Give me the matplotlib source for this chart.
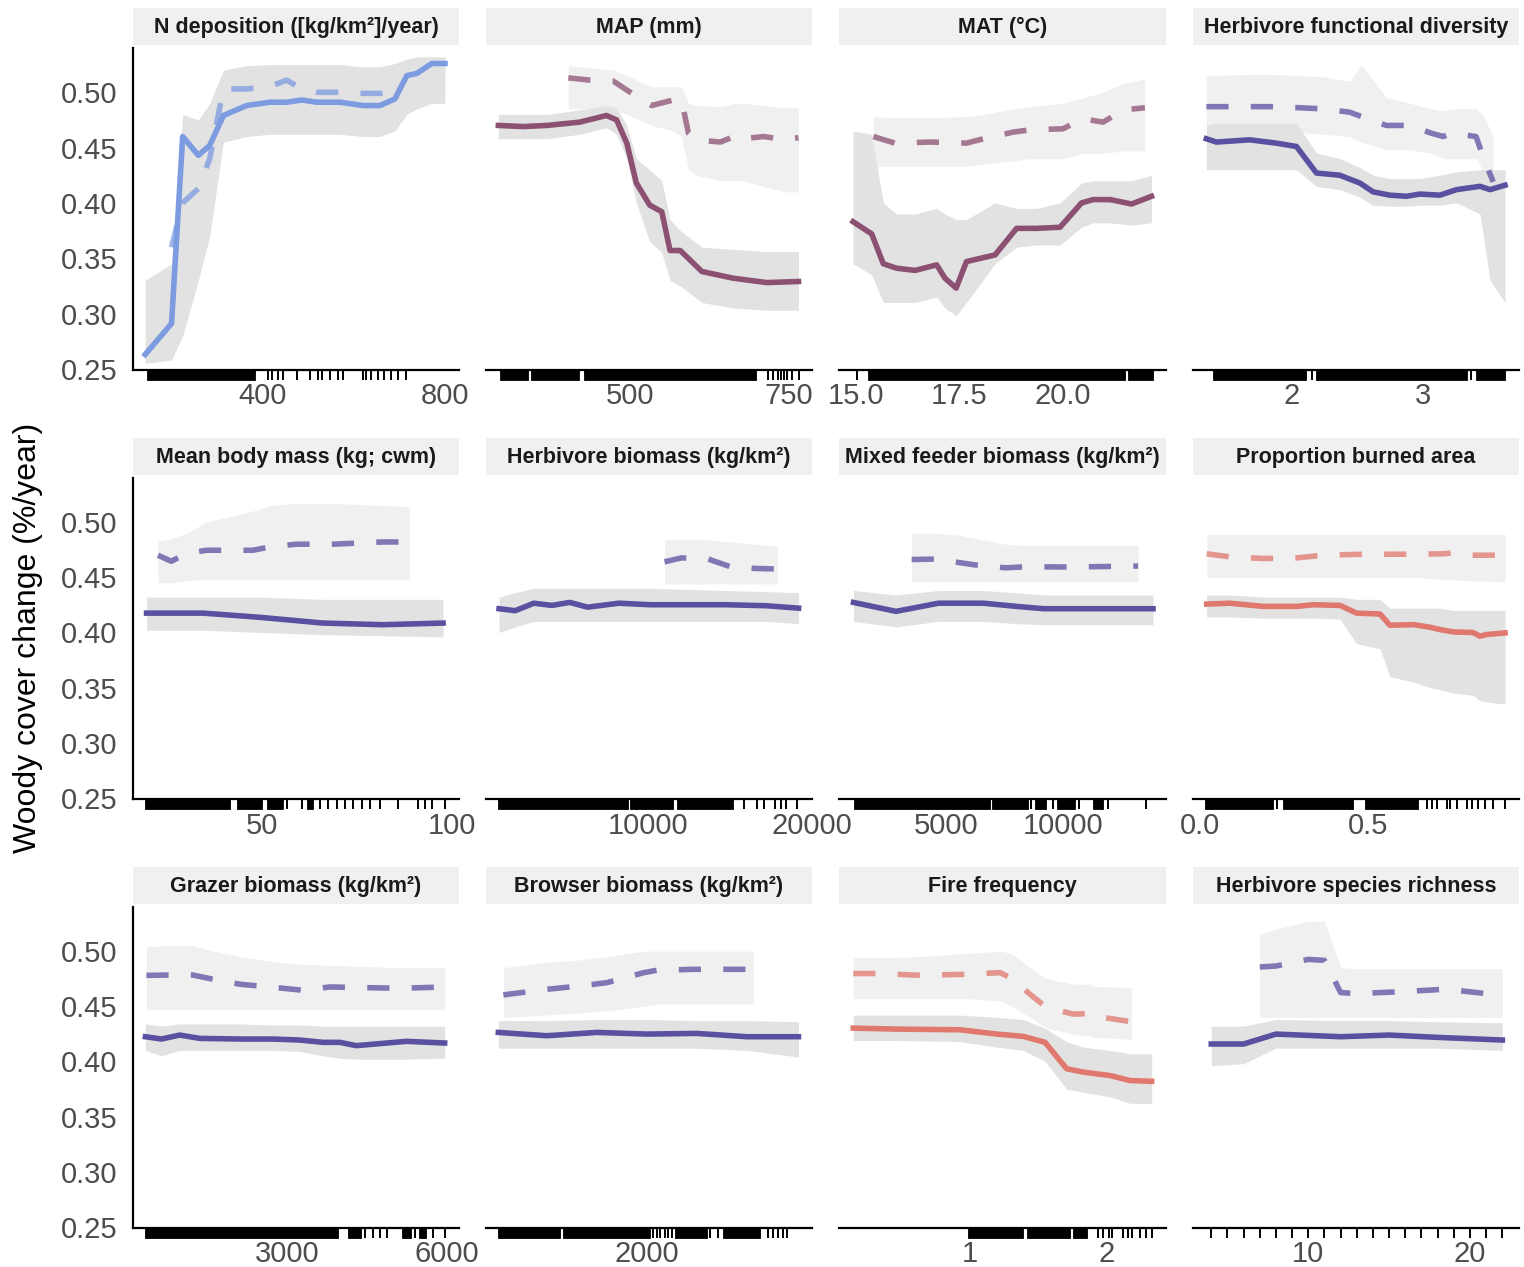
import matplotlib
matplotlib.use("Agg")
import matplotlib.pyplot as plt
from matplotlib.patches import Rectangle

plt.rcParams['font.family'] = ['Liberation Sans', 'DejaVu Sans']

# ---------------- data ----------------
titles = ["N deposition ([kg/km\u00b2]/year)", "MAP (mm)", "MAT (\u00b0C)",
          "Herbivore functional diversity",
          "Mean body mass (kg; cwm)", "Herbivore biomass (kg/km\u00b2)",
          "Mixed feeder biomass (kg/km\u00b2)", "Proportion burned area",
          "Grazer biomass (kg/km\u00b2)", "Browser biomass (kg/km\u00b2)",
          "Fire frequency", "Herbivore species richness"]

# 1 N deposition
ndep_x = [141, 199, 223.5, 258, 283, 313, 364, 415, 452, 485, 518, 569, 620, 657, 690, 716, 738, 771, 800]
ndep_y = [0.263, 0.291, 0.460, 0.443, 0.452, 0.479, 0.488, 0.491, 0.491, 0.493, 0.491, 0.491, 0.488, 0.488, 0.494, 0.515, 0.517, 0.526, 0.526]
ndep_lo = [0.255, 0.258, 0.28, 0.33, 0.37, 0.455, 0.46, 0.462, 0.462, 0.462, 0.462, 0.462, 0.46, 0.46, 0.465, 0.48, 0.485, 0.49, 0.49]
ndep_hi = [0.33, 0.345, 0.48, 0.475, 0.49, 0.52, 0.524, 0.525, 0.525, 0.525, 0.525, 0.525, 0.523, 0.523, 0.526, 0.53, 0.532, 0.532, 0.532]
ndep_dx = [199, 223.5, 258, 283, 313, 364, 415, 452, 485, 518, 569, 620, 657, 690]
ndep_dy = [0.36, 0.40, 0.413, 0.44, 0.503, 0.503, 0.505, 0.511, 0.503, 0.500, 0.500, 0.499, 0.499, 0.500]
ndep_rug_spans = [(144, 383)]
ndep_rug = [412, 419, 434, 443, 474, 503, 521, 529, 547, 565, 576, 620, 627, 638, 653, 667, 682, 697, 715]

# 2 MAP
map_x = [293, 332, 369, 421, 463, 479, 495, 510, 531, 550, 563, 579, 613, 662, 715, 765]
map_y = [0.470, 0.469, 0.470, 0.473, 0.479, 0.475, 0.454, 0.418, 0.398, 0.392, 0.357, 0.357, 0.338, 0.332, 0.328, 0.329]
map_lo = [0.458, 0.458, 0.458, 0.462, 0.468, 0.462, 0.44, 0.40, 0.365, 0.355, 0.33, 0.325, 0.31, 0.305, 0.303, 0.303]
map_hi = [0.48, 0.48, 0.48, 0.484, 0.488, 0.486, 0.47, 0.44, 0.43, 0.42, 0.385, 0.375, 0.36, 0.358, 0.356, 0.356]
map_dx = [403, 437, 474, 495, 534, 568, 581, 592, 605, 642, 668, 678, 710, 744, 765]
map_dy = [0.513, 0.511, 0.510, 0.502, 0.488, 0.493, 0.493, 0.463, 0.457, 0.455, 0.461, 0.458, 0.460, 0.457, 0.459]
map_dlo = [0.485, 0.485, 0.485, 0.48, 0.47, 0.465, 0.46, 0.43, 0.425, 0.42, 0.42, 0.42, 0.415, 0.41, 0.41]
map_dhi = [0.524, 0.522, 0.52, 0.515, 0.505, 0.505, 0.505, 0.49, 0.488, 0.487, 0.49, 0.49, 0.488, 0.486, 0.486]
map_rug_spans = [(296, 339), (344, 420), (428, 698)]
map_rug = [717, 725, 732, 737, 742, 747, 754, 766]

# 3 MAT
mat_x = [14.93, 15.38, 15.66, 15.98, 16.43, 16.95, 17.15, 17.42, 17.67, 18.36, 18.88, 19.36, 19.93, 20.45, 20.73, 21.14, 21.66, 22.14]
mat_y = [0.383, 0.372, 0.345, 0.341, 0.339, 0.344, 0.332, 0.323, 0.347, 0.353, 0.377, 0.377, 0.378, 0.400, 0.403, 0.403, 0.399, 0.406]
mat_lo = [0.345, 0.335, 0.31, 0.31, 0.31, 0.315, 0.305, 0.298, 0.31, 0.345, 0.36, 0.362, 0.362, 0.378, 0.382, 0.382, 0.38, 0.382]
mat_hi = [0.465, 0.462, 0.40, 0.39, 0.39, 0.395, 0.39, 0.385, 0.385, 0.40, 0.395, 0.395, 0.40, 0.418, 0.42, 0.42, 0.42, 0.425]
mat_dx = [15.42, 15.94, 16.79, 17.67, 18.08, 18.80, 19.20, 20.0, 20.49, 20.97, 21.46, 21.98]
mat_dy = [0.460, 0.454, 0.455, 0.454, 0.458, 0.464, 0.466, 0.467, 0.476, 0.473, 0.484, 0.486]
mat_dlo = [0.433, 0.433, 0.433, 0.433, 0.435, 0.438, 0.44, 0.44, 0.445, 0.445, 0.447, 0.447]
mat_dhi = [0.478, 0.477, 0.477, 0.478, 0.48, 0.485, 0.487, 0.49, 0.495, 0.50, 0.508, 0.512]
mat_rug_spans = [(15.28, 21.5), (21.56, 22.18)]
mat_rug = [15.02]

# 4 Herbivore functional diversity
hfd_x = [1.352, 1.428, 1.681, 1.884, 2.036, 2.188, 2.365, 2.517, 2.618, 2.745, 2.872, 2.973, 3.125, 3.252, 3.43, 3.506, 3.62]
hfd_y = [0.458, 0.455, 0.457, 0.454, 0.451, 0.427, 0.425, 0.418, 0.410, 0.407, 0.406, 0.408, 0.407, 0.412, 0.415, 0.412, 0.416]
hfd_lo = [0.43, 0.43, 0.43, 0.43, 0.43, 0.415, 0.412, 0.405, 0.398, 0.397, 0.397, 0.398, 0.398, 0.40, 0.39, 0.33, 0.31]
hfd_hi = [0.47, 0.472, 0.472, 0.472, 0.472, 0.445, 0.44, 0.432, 0.425, 0.422, 0.422, 0.422, 0.425, 0.428, 0.43, 0.43, 0.43]
hfd_dx = [1.352, 1.655, 1.884, 2.238, 2.44, 2.53, 2.72, 2.897, 3.06, 3.15, 3.21, 3.40, 3.45, 3.53]
hfd_dy = [0.487, 0.487, 0.487, 0.485, 0.482, 0.478, 0.470, 0.470, 0.463, 0.460, 0.463, 0.460, 0.443, 0.419]
hfd_dlo = [0.465, 0.465, 0.465, 0.462, 0.46, 0.455, 0.448, 0.448, 0.445, 0.44, 0.44, 0.44, 0.43, 0.41]
hfd_dhi = [0.515, 0.516, 0.516, 0.514, 0.51, 0.525, 0.495, 0.49, 0.485, 0.483, 0.485, 0.485, 0.48, 0.46]
hfd_rug_spans = [(1.40, 2.11), (2.185, 3.33), (3.40, 3.62)]
hfd_rug = [2.152, 3.36]

# 5 Mean body mass
bm_x = [19.7, 34.6, 49.5, 66.1, 81.9, 97.7]
bm_y = [0.4175, 0.4175, 0.4137, 0.4085, 0.407, 0.4085]
bm_lo = [0.402, 0.402, 0.40, 0.398, 0.397, 0.396]
bm_hi = [0.432, 0.432, 0.432, 0.43, 0.43, 0.43]
bm_dx = [22.7, 26.2, 30.2, 35.4, 47.7, 52.1, 59.1, 68.8, 81.9, 88.9]
bm_dy = [0.470, 0.4645, 0.4715, 0.4745, 0.4745, 0.4775, 0.480, 0.480, 0.482, 0.482]
bm_dlo = [0.445, 0.445, 0.447, 0.448, 0.448, 0.448, 0.448, 0.448, 0.448, 0.448]
bm_dhi = [0.483, 0.485, 0.49, 0.50, 0.51, 0.515, 0.517, 0.517, 0.515, 0.514]
bm_rug_spans = [(19.3, 41.7), (43.4, 50), (51.3, 55.7), (61.8, 63.6)]
bm_rug = [56.6, 60.5, 65.3, 67.5, 69.7, 71.9, 74.1, 76.3, 78.5, 81.1, 85.9, 91.2, 93, 94.7, 98.2]

# 6 Herbivore biomass
hb_x = [919, 1902, 3043, 4134, 5226, 6317, 8226, 10134, 14762, 17220, 19183]
hb_y = [0.4215, 0.4197, 0.4265, 0.4245, 0.4272, 0.4229, 0.4265, 0.4251, 0.4251, 0.4242, 0.4220]
hb_lo = [0.40, 0.405, 0.41, 0.41, 0.41, 0.41, 0.41, 0.41, 0.41, 0.41, 0.408]
hb_hi = [0.432, 0.436, 0.44, 0.44, 0.44, 0.44, 0.44, 0.44, 0.438, 0.437, 0.436]
hb_dx = [11006, 12043, 13677, 15037, 16537, 17897]
hb_dy = [0.464, 0.4676, 0.4665, 0.4595, 0.458, 0.4575]
hb_dlo = [0.444, 0.444, 0.444, 0.444, 0.444, 0.444]
hb_dhi = [0.484, 0.484, 0.484, 0.482, 0.48, 0.478]
hb_rug_spans = [(866, 8768), (8902, 11494), (11768, 15177)]
hb_rug = [15854, 16671, 17079, 17762, 18091, 18445, 19073]

# 7 Mixed feeder biomass
mf_x = [1026, 2842, 4658, 6568, 8000, 9145, 11821, 13825]
mf_y = [0.4272, 0.4191, 0.4265, 0.4265, 0.4236, 0.4215, 0.4215, 0.4215]
mf_lo = [0.41, 0.405, 0.41, 0.41, 0.408, 0.407, 0.407, 0.407]
mf_hi = [0.438, 0.434, 0.438, 0.438, 0.436, 0.434, 0.434, 0.434]
mf_dx = [3509, 4466, 5517, 6282, 7521, 8380, 10389, 13190]
mf_dy = [0.4661, 0.4665, 0.4634, 0.461, 0.4586, 0.4595, 0.4593, 0.4602]
mf_dlo = [0.446, 0.446, 0.446, 0.446, 0.446, 0.446, 0.446, 0.446]
mf_dhi = [0.49, 0.49, 0.488, 0.485, 0.48, 0.479, 0.479, 0.479]
mf_rug_spans = [(1026, 6855), (6949, 8479), (8765, 9244), (9722, 10483), (11248, 11667)]
mf_rug = [8611, 9530, 10675, 11915, 13538]

# 8 Proportion burned area
pb_x = [0.020, 0.089, 0.188, 0.288, 0.337, 0.417, 0.466, 0.536, 0.565, 0.635, 0.685, 0.714, 0.754, 0.813, 0.833, 0.853, 0.908]
pb_y = [0.4257, 0.4265, 0.4236, 0.4236, 0.4251, 0.4245, 0.4175, 0.4167, 0.4065, 0.4071, 0.4047, 0.4026, 0.4005, 0.3999, 0.3966, 0.3981, 0.3996]
pb_lo = [0.414, 0.414, 0.413, 0.413, 0.413, 0.412, 0.39, 0.385, 0.36, 0.355, 0.35, 0.348, 0.345, 0.343, 0.338, 0.337, 0.335]
pb_hi = [0.434, 0.434, 0.432, 0.432, 0.432, 0.432, 0.43, 0.43, 0.422, 0.422, 0.422, 0.422, 0.42, 0.42, 0.42, 0.42, 0.42]
pb_dx = [0.020, 0.089, 0.188, 0.288, 0.367, 0.486, 0.635, 0.724, 0.754, 0.784, 0.908]
pb_dy = [0.4713, 0.4685, 0.467, 0.4676, 0.470, 0.4709, 0.4709, 0.4713, 0.4722, 0.470, 0.470]
pb_dlo = [0.45, 0.45, 0.45, 0.45, 0.45, 0.45, 0.45, 0.448, 0.448, 0.447, 0.446]
pb_dhi = [0.489, 0.489, 0.489, 0.489, 0.489, 0.489, 0.489, 0.489, 0.489, 0.489, 0.489]
pb_rug_spans = [(0.015, 0.218), (0.248, 0.456), (0.491, 0.650)]
pb_rug = [0.228, 0.675, 0.69, 0.704, 0.734, 0.744, 0.764, 0.794, 0.809, 0.828, 0.848, 0.873, 0.908]

# 9 Grazer biomass
gb_x = [351, 651, 994, 1369, 2119, 2744, 3244, 3681, 3994, 4306, 4806, 5244, 5962]
gb_y = [0.4224, 0.4203, 0.4239, 0.4209, 0.4203, 0.4203, 0.4194, 0.4173, 0.4173, 0.4143, 0.4164, 0.4182, 0.4167]
gb_lo = [0.41, 0.405, 0.41, 0.41, 0.41, 0.41, 0.409, 0.405, 0.403, 0.402, 0.402, 0.402, 0.403]
gb_hi = [0.434, 0.432, 0.434, 0.434, 0.434, 0.433, 0.433, 0.432, 0.432, 0.432, 0.432, 0.432, 0.432]
gb_dx = [369, 744, 1244, 1619, 2119, 2806, 3306, 3806, 4494, 5119, 5962]
gb_dy = [0.478, 0.4783, 0.4783, 0.4745, 0.470, 0.4669, 0.4645, 0.4675, 0.4669, 0.4663, 0.4675]
gb_dlo = [0.447, 0.447, 0.447, 0.447, 0.447, 0.447, 0.447, 0.447, 0.447, 0.447, 0.447]
gb_dhi = [0.504, 0.505, 0.505, 0.50, 0.495, 0.49, 0.488, 0.487, 0.486, 0.485, 0.485]
gb_rug_spans = [(343, 3968), (4155, 4387), (5156, 5325), (5487, 5612)]
gb_rug = [4468, 4624, 4749, 4887, 5406, 5749, 5968]

# 10 Browser biomass
bb_x = [292, 848, 1424, 1999, 2575, 3150, 3744]
bb_y = [0.4263, 0.4233, 0.4263, 0.4248, 0.4254, 0.4224, 0.4224]
bb_lo = [0.412, 0.412, 0.412, 0.412, 0.412, 0.41, 0.404]
bb_hi = [0.437, 0.437, 0.438, 0.438, 0.437, 0.437, 0.436]
bb_dx = [349, 848, 1232, 1539, 1960, 2114, 2535, 3226]
bb_dy = [0.4603, 0.4654, 0.4684, 0.4714, 0.4804, 0.4826, 0.4835, 0.4835]
bb_dlo = [0.44, 0.442, 0.444, 0.446, 0.45, 0.452, 0.452, 0.452]
bb_dhi = [0.485, 0.49, 0.492, 0.495, 0.50, 0.50, 0.50, 0.50]
bb_rug_spans = [(292, 1002), (1033, 2037), (2325, 2690), (2881, 3303)]
bb_rug = [2075, 2114, 2152, 2210, 2248, 2287, 2728, 2823, 3399, 3456, 3514, 3571, 3610]

# 11 Fire frequency
ff_x = [0.146, 0.464, 0.927, 1.195, 1.39, 1.549, 1.707, 1.829, 2.024, 2.171, 2.329]
ff_y = [0.4302, 0.4293, 0.4287, 0.4248, 0.4227, 0.4173, 0.3934, 0.3903, 0.3872, 0.3827, 0.3820]
ff_lo = [0.419, 0.419, 0.418, 0.413, 0.41, 0.40, 0.375, 0.372, 0.368, 0.362, 0.362]
ff_hi = [0.442, 0.442, 0.442, 0.44, 0.438, 0.43, 0.418, 0.413, 0.41, 0.407, 0.407]
ff_dx = [0.146, 0.317, 0.634, 0.976, 1.22, 1.305, 1.439, 1.561, 1.756, 1.878, 1.902, 2.183]
ff_dy = [0.4797, 0.4797, 0.4781, 0.479, 0.4805, 0.4754, 0.4609, 0.4488, 0.4429, 0.4434, 0.4413, 0.4359]
ff_dlo = [0.457, 0.457, 0.457, 0.457, 0.455, 0.45, 0.44, 0.43, 0.425, 0.423, 0.422, 0.42]
ff_dhi = [0.494, 0.494, 0.495, 0.498, 0.50, 0.498, 0.485, 0.475, 0.47, 0.47, 0.468, 0.467]
ff_rug_spans = [(0.988, 1.385), (1.415, 1.732), (1.756, 1.854)]
ff_rug = [1.939, 1.975, 2.019, 2.036, 2.122, 2.153, 2.183, 2.244, 2.287, 2.329]

# 12 Herbivore species richness
sr_x = [4, 6, 8, 12, 15, 18, 22]
sr_y = [0.4158, 0.4158, 0.4248, 0.4224, 0.4239, 0.4218, 0.4194]
sr_lo = [0.396, 0.398, 0.412, 0.412, 0.412, 0.412, 0.41]
sr_hi = [0.432, 0.432, 0.438, 0.437, 0.437, 0.436, 0.435]
sr_dx = [7, 8, 10, 11, 12, 13, 16, 18.5, 21, 22]
sr_dy = [0.4856, 0.4865, 0.4925, 0.4916, 0.4624, 0.4615, 0.4634, 0.4655, 0.4615, 0.461]
sr_dlo = [0.44, 0.44, 0.44, 0.44, 0.44, 0.44, 0.44, 0.44, 0.44, 0.44]
sr_dhi = [0.515, 0.52, 0.527, 0.527, 0.485, 0.484, 0.484, 0.484, 0.484, 0.484]
sr_rug_spans = []
sr_rug = [4, 5, 6, 7, 8, 9, 10, 11, 12, 13, 14, 15, 16, 17, 18, 19, 20, 21, 22]

# tick labels per panel
xticks = [[400, 800], [500, 750], [15.0, 17.5, 20.0], [2, 3],
          [50, 100], [10000, 20000], [5000, 10000], [0.0, 0.5],
          [3000, 6000], [2000], [1, 2], [10, 20]]
xticklabels = [["400", "800"], ["500", "750"], ["15.0", "17.5", "20.0"], ["2", "3"],
               ["50", "100"], ["10000", "20000"], ["5000", "10000"], ["0.0", "0.5"],
               ["3000", "6000"], ["2000"], ["1", "2"], ["10", "20"]]
yticks = [0.25, 0.30, 0.35, 0.40, 0.45, 0.50]
ytick_labels = ["0.25", "0.30", "0.35", "0.40", "0.45", "0.50"]
ylabel = "Woody cover change (%/year)"

# ---------------- styling ----------------
C_BLUE = "#7d9be1"
C_PURP = "#5a50a0"
C_PLUM = "#8c5073"
C_RED = "#e0786e"

panels = [
    (ndep_x, ndep_y, ndep_lo, ndep_hi, ndep_dx, ndep_dy, None, None, ndep_rug_spans, ndep_rug, C_BLUE),
    (map_x, map_y, map_lo, map_hi, map_dx, map_dy, map_dlo, map_dhi, map_rug_spans, map_rug, C_PLUM),
    (mat_x, mat_y, mat_lo, mat_hi, mat_dx, mat_dy, mat_dlo, mat_dhi, mat_rug_spans, mat_rug, C_PLUM),
    (hfd_x, hfd_y, hfd_lo, hfd_hi, hfd_dx, hfd_dy, hfd_dlo, hfd_dhi, hfd_rug_spans, hfd_rug, C_PURP),
    (bm_x, bm_y, bm_lo, bm_hi, bm_dx, bm_dy, bm_dlo, bm_dhi, bm_rug_spans, bm_rug, C_PURP),
    (hb_x, hb_y, hb_lo, hb_hi, hb_dx, hb_dy, hb_dlo, hb_dhi, hb_rug_spans, hb_rug, C_PURP),
    (mf_x, mf_y, mf_lo, mf_hi, mf_dx, mf_dy, mf_dlo, mf_dhi, mf_rug_spans, mf_rug, C_PURP),
    (pb_x, pb_y, pb_lo, pb_hi, pb_dx, pb_dy, pb_dlo, pb_dhi, pb_rug_spans, pb_rug, C_RED),
    (gb_x, gb_y, gb_lo, gb_hi, gb_dx, gb_dy, gb_dlo, gb_dhi, gb_rug_spans, gb_rug, C_PURP),
    (bb_x, bb_y, bb_lo, bb_hi, bb_dx, bb_dy, bb_dlo, bb_dhi, bb_rug_spans, bb_rug, C_PURP),
    (ff_x, ff_y, ff_lo, ff_hi, ff_dx, ff_dy, ff_dlo, ff_dhi, ff_rug_spans, ff_rug, C_RED),
    (sr_x, sr_y, sr_lo, sr_hi, sr_dx, sr_dy, sr_dlo, sr_dhi, sr_rug_spans, sr_rug, C_PURP),
]

xlims = [(114.3, 830.8), (273.6, 786.2), (14.59, 22.49), (1.2506, 3.726),
         (16.13, 101.9), (122, 20000), (406, 14380), (-0.0208, 0.9494),
         (118, 6231), (150, 3900), (0.0417, 2.434), (2.87, 23.03)]

W, H = 1524, 1267
cols_px = [(133, 459), (486, 812), (839, 1166), (1193, 1519)]
rows_px = [(48, 370), (478, 799), (907, 1228)]

fig = plt.figure(figsize=(W / 100, H / 100), dpi=100)

for i, p in enumerate(panels):
    r, c = divmod(i, 4)
    l, rr = cols_px[c]
    t, b = rows_px[r]
    ph = b - t
    ax = fig.add_axes([l / W, 1 - b / H, (rr - l) / W, ph / H])
    x, y, lo, hi, dx, dy, dlo, dhi, spans, rug, col = p

    if dlo is not None:
        ax.fill_between(dx, dlo, dhi, color="#f0f0f0", lw=0, zorder=1)
    ax.fill_between(x, lo, hi, color="#e2e2e2", lw=0, zorder=2)
    ax.plot(dx, dy, color=col, lw=4.0, alpha=0.75, linestyle=(0, (4, 4)),
            solid_capstyle="butt", zorder=3)
    ax.plot(x, y, color=col, lw=4.0, solid_joinstyle="round", zorder=4)

    ax.set_xlim(*xlims[i])
    ax.set_ylim(0.249, 0.540)

    # rug below the axis line
    rug_h = 9.5 / ph
    tr = ax.get_xaxis_transform()
    for (s0, s1) in spans:
        ax.add_patch(Rectangle((s0, -rug_h), s1 - s0, rug_h, transform=tr,
                               facecolor="black", edgecolor="black", lw=0.6,
                               clip_on=False, zorder=5))
    if rug:
        ax.vlines(rug, -rug_h, 0, transform=tr, colors="black", lw=1.4,
                  clip_on=False, zorder=5)

    # strip
    ax.add_patch(Rectangle((0, 1 + 3 / ph), 1, 37 / ph, transform=ax.transAxes,
                           facecolor="#f0f0f0", edgecolor="none", clip_on=False))
    ax.text(0.5, 1 + 20.5 / ph, titles[i], transform=ax.transAxes, ha="center",
            va="center", fontsize=15.5, fontweight="bold", color="#1a1a1a")

    for s in ["top", "right"]:
        ax.spines[s].set_visible(False)
    ax.spines["bottom"].set_linewidth(1.6)
    ax.spines["bottom"].set_color("black")
    ax.set_xticks(xticks[i])
    ax.set_xticklabels(xticklabels[i])
    ax.tick_params(axis="x", length=0, pad=9, labelsize=21, labelcolor="#4d4d4d")
    ax.set_yticks(yticks)
    if c == 0:
        ax.spines["left"].set_linewidth(1.6)
        ax.spines["left"].set_color("black")
        ax.set_yticklabels(ytick_labels)
        ax.tick_params(axis="y", length=0, pad=11, labelsize=21, labelcolor="#4d4d4d")
    else:
        ax.spines["left"].set_visible(False)
        ax.tick_params(axis="y", length=0, labelleft=False)
    ax.set_facecolor("none")

fig.text(28 / W, 1 - 638 / H, ylabel, rotation=90, ha="center", va="center",
         fontsize=23, color="black")

fig.savefig("out.png", dpi=100, facecolor="white")
